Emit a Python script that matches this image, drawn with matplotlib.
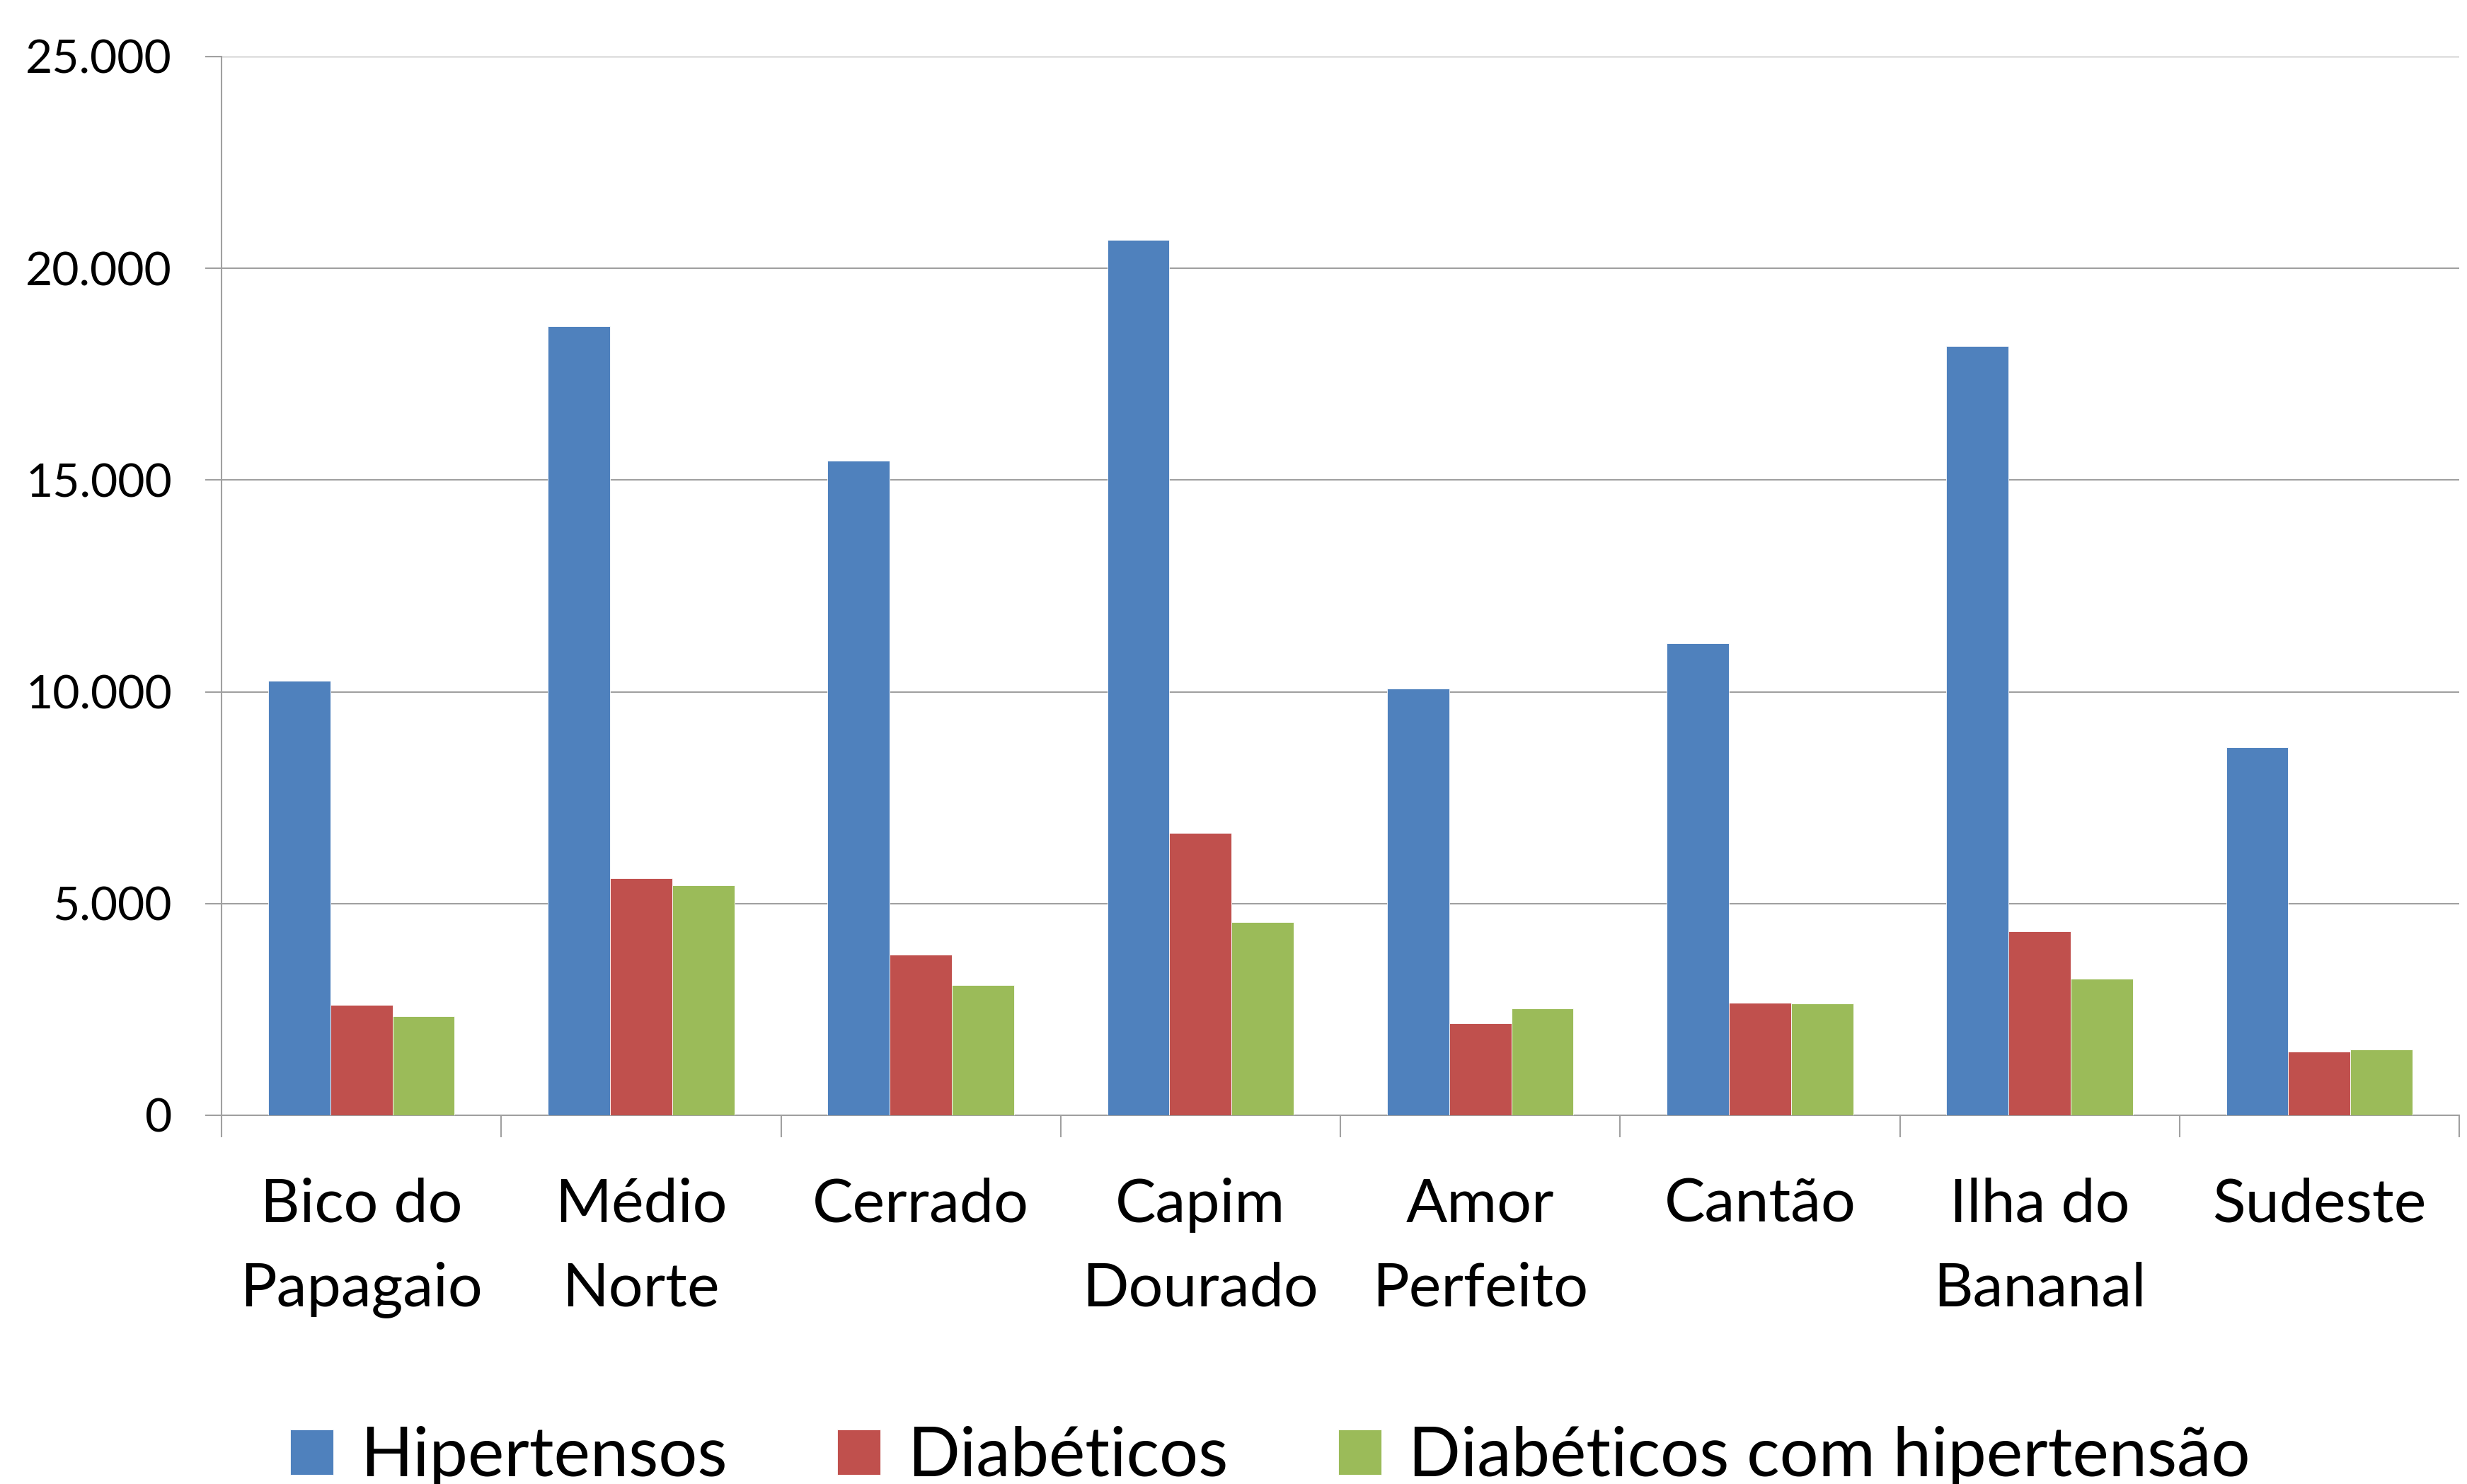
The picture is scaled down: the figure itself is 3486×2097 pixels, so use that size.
import numpy as np
import matplotlib
matplotlib.use("Agg")
import matplotlib.pyplot as plt
from matplotlib.ticker import FuncFormatter

regions = ["Bico do\nPapagaio", "Médio\nNorte", "Cerrado", "Capim\nDourado",
           "Amor\nPerfeito", "Cantão", "Ilha do\nBananal", "Sudeste"]
hipertensos = [10260, 18630, 15450, 20680, 10080, 11140, 18160, 8690]
diabeticos = [2610, 5590, 3800, 6660, 2170, 2650, 4340, 1500]
diab_hiper = [2340, 5430, 3070, 4570, 2530, 2640, 3220, 1560]
series_names = ["Hipertensos", "Diabéticos", "Diabéticos com hipertensão"]
colors = ["#4F81BD", "#C0504D", "#9BBB59"]
yticks = [0, 5000, 10000, 15000, 20000, 25000]

plt.rcParams["font.family"] = ["Lato", "DejaVu Sans"]
grid_col = "#a0a0a0"

W, H = 3486, 2097
fig = plt.figure(figsize=(W / 100, H / 100), dpi=100)
ax = fig.add_axes([313 / W, 1 - 1576 / H, (3475 - 313) / W, (1576 - 80) / H])

x = np.arange(len(regions))
w = 1 / 4.5
for i, (vals, name, c) in enumerate(zip([hipertensos, diabeticos, diab_hiper], series_names, colors)):
    ax.bar(x + (i - 1) * w, vals, width=w, color=c, label=name, zorder=3,
           edgecolor="white", linewidth=0.6)

ax.set_xlim(-0.5, len(regions) - 0.5)
ax.set_ylim(0, 25000)
ax.set_yticks(yticks)
ax.yaxis.set_major_formatter(FuncFormatter(lambda v, p: f"{int(v):,}".replace(",", ".")))
ax.grid(axis="y", color=grid_col, linewidth=1.5, zorder=0)

ax.set_xticks(x)
ax.set_xticklabels(regions, fontsize=62, linespacing=1.65)
ax.set_xticks(np.arange(-0.5, len(regions)), minor=True)
ax.tick_params(axis="x", which="major", length=0, pad=63)
ax.tick_params(axis="x", which="minor", length=22, width=1.5, color=grid_col)
ax.tick_params(axis="y", length=16.5, width=1.5, color=grid_col, pad=34, labelsize=47.5)

for s in ["top", "right"]:
    ax.spines[s].set_visible(False)
for s in ["left", "bottom"]:
    ax.spines[s].set_color(grid_col)
    ax.spines[s].set_linewidth(1.5)

fig.legend(loc="upper center", bbox_to_anchor=(1795 / W, 1 - 2015 / H), ncol=3,
           frameon=False, fontsize=70, handlelength=0.63, handleheight=0.64,
           handletextpad=0.39, columnspacing=1.6, borderaxespad=0, borderpad=0)

fig.savefig("out.png", dpi=100)
